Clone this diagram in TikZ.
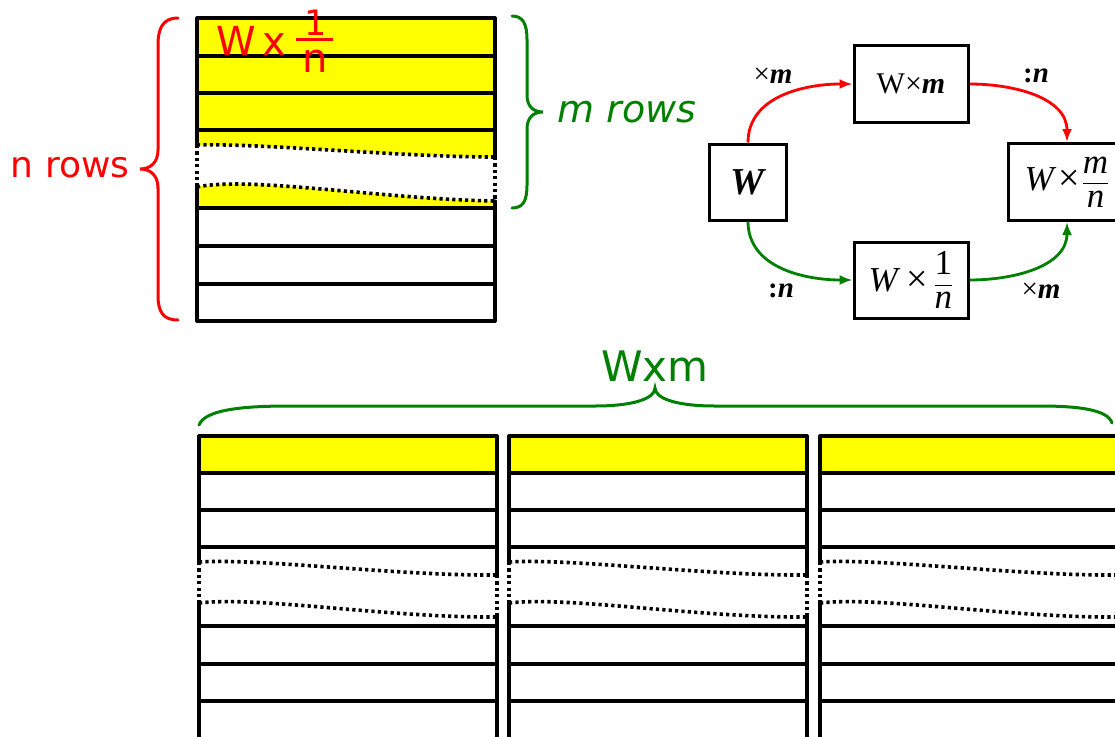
\documentclass[tikz,border=0pt]{standalone}
\usepackage{amsmath}
\usepackage{fontspec}
\setmainfont{Liberation Serif}
\newfontfamily\hand{DejaVu Sans}
\usetikzlibrary{arrows.meta}
\definecolor{hred}{RGB}{255,0,0}
\definecolor{hgreen}{RGB}{0,128,0}
\definecolor{hyel}{RGB}{255,255,0}
\newcommand{\bigtimes}{{\fontsize{38}{38}\selectfont ×}}
\tikzset{
  gridline/.style={line width=3.2pt, line cap=round},
  dotline/.style={line width=3.6pt, dash pattern=on 3.2pt off 3.2pt},
  brace/.style={line width=3pt, line cap=round},
  flowbox/.style={draw, line width=3pt, inner sep=0pt, font=\fontsize{30}{36}\selectfont},
  fracbox/.style={flowbox, font=\fontsize{35}{40}\selectfont},
  flowarrow/.style={line width=2.8pt, -{Latex[length=13pt,width=10pt]}},
  oplabel/.style={font=\fontsize{29}{34}\selectfont, inner sep=0pt},
  handtext/.style={font=\hand\fontsize{36}{40}\selectfont, inner sep=0pt}
}
\begin{document}
\begin{tikzpicture}[x=1pt,y=-1pt]
\useasboundingbox (0,0) rectangle (1115,736);
\fill[white] (0,0) rectangle (1115,736);

% ---------- top-left matrix ----------
\fill[hyel] (197,18) rectangle (495,130);
\fill[hyel] (197,130) -- (495,130) -- (495,157)
   .. controls (400,157) and (260,143) .. (197,145) -- cycle;
\fill[hyel] (197,187) .. controls (250,176) and (380,199) .. (495,201)
   -- (495,208) -- (197,208) -- cycle;
\foreach \yy in {18,56,93,130,208,246,284,321}
  \draw[gridline] (197,\yy) -- (495,\yy);
\draw[gridline] (197,18) -- (197,145);
\draw[gridline] (197,187) -- (197,321);
\draw[gridline] (495,18) -- (495,157);
\draw[gridline] (495,201) -- (495,321);
\draw[dotline] (197,145) .. controls (260,143) and (400,157) .. (495,157);
\draw[dotline] (197,187) .. controls (250,176) and (380,199) .. (495,201);
\draw[dotline] (197,145) -- (197,187);
\draw[dotline] (495,157) -- (495,201);

% W x 1/n label
\node[handtext, text=hred, font=\hand\fontsize{40}{44}\selectfont] (wx) at (251,41) {W\,x};
\node[handtext, text=hred, font=\hand\fontsize{35}{38}\selectfont, anchor=south] (one) at (316,36) {1};
\node[handtext, text=hred, font=\hand\fontsize{40}{44}\selectfont, anchor=north] (enn) at (315,50) {n};
\draw[hred, line width=3pt] (296,39) -- (333,39);

% n rows brace
\draw[brace, hred] (178,18) .. controls (163,18) and (158,28) .. (158,45)
   -- (158,150) .. controls (158,163) and (150,169) .. (140,169)
   .. controls (150,169) and (158,175) .. (158,188)
   -- (158,295) .. controls (158,312) and (163,320) .. (178,320);
\node[handtext, text=hred] (nrows) at (70,168) {n\,\,rows};

% m rows brace
\draw[brace, hgreen] (512,16) .. controls (523,16) and (527,24) .. (527,40)
   -- (527,95) .. controls (527,106) and (533,112) .. (543,112)
   .. controls (533,112) and (527,118) .. (527,129)
   -- (527,185) .. controls (527,201) and (523,208) .. (512,208);
\node[handtext, text=hgreen, font=\hand\itshape\fontsize{38}{42}\selectfont] (mrows) at (627,112) {m\,\,rows};

% ---------- flow diagram ----------
\node[flowbox, font=\fontsize{38}{40}\selectfont, minimum width=77pt, minimum height=76pt] (W) at (748,182)
   {\textbf{\textit{W}}};
\node[flowbox, minimum width=114pt, minimum height=77pt] (Wm) at (911,84)
   {W×\textbf{\textit{m}}};
\node[fracbox, minimum width=114pt, minimum height=76pt] (W1n) at (911,280)
   {\textit{W}\,\bigtimes\,$\dfrac{\text{1}}{\textit{n}}$};
\node[fracbox, minimum width=118pt, minimum height=77pt] (Wmn) at (1067,182)
   {\textit{W}\hspace{2pt}\bigtimes\hspace{2pt}$\dfrac{\textit{m}}{\textit{n}}$\hspace{30pt}};

\draw[flowarrow, hred] (W.north) to[out=90,in=180] (Wm.west);
\draw[flowarrow, hred] (Wm.east) to[out=0,in=90] (Wmn.north);
\draw[flowarrow, hgreen] (W.south) to[out=-90,in=180] (W1n.west);
\draw[flowarrow, hgreen] (W1n.east) to[out=0,in=-90] (Wmn.south);

\node[oplabel] (l1) at (773,76) {×\textbf{\textit{m}}};
\node[oplabel] (l2) at (1036,76) {\textbf{:\textit{n}}};
\node[oplabel] (l3) at (781,291) {\textbf{:\textit{n}}};
\node[oplabel] (l4) at (1041,291) {×\textbf{\textit{m}}};

% ---------- W x m brace ----------
\draw[brace, hgreen] (199,425) .. controls (205,410) and (240,406) .. (290,406)
   -- (595,406) .. controls (635,406) and (655,398) .. (655,388)
   .. controls (655,398) and (675,406) .. (715,406)
   -- (1040,406) .. controls (1080,406) and (1108,410) .. (1112,423);
\node[handtext, text=hgreen, font=\hand\fontsize{42}{46}\selectfont] (wxm) at (655,366) {Wxm};

% ---------- bottom blocks ----------
\foreach \xx in {199,509,820} {
  \fill[hyel] (\xx,436) rectangle (\xx+298,473);
  \foreach \yy in {436,473,510,547,626,664,701}
    \draw[gridline] (\xx,\yy) -- (\xx+298,\yy);
  \draw[gridline] (\xx,436) -- (\xx,562);
  \draw[gridline] (\xx,603) -- (\xx,740);
  \draw[gridline] (\xx+298,436) -- (\xx+298,575);
  \draw[gridline] (\xx+298,617) -- (\xx+298,740);
  \draw[dotline] (\xx,562) .. controls (\xx+60,558) and (\xx+200,576) .. (\xx+298,575);
  \draw[dotline] (\xx,603) .. controls (\xx+60,596) and (\xx+190,618) .. (\xx+298,617);
  \draw[dotline] (\xx,562) -- (\xx,603);
  \draw[dotline] (\xx+298,575) -- (\xx+298,617);
}
\end{tikzpicture}
\end{document}
